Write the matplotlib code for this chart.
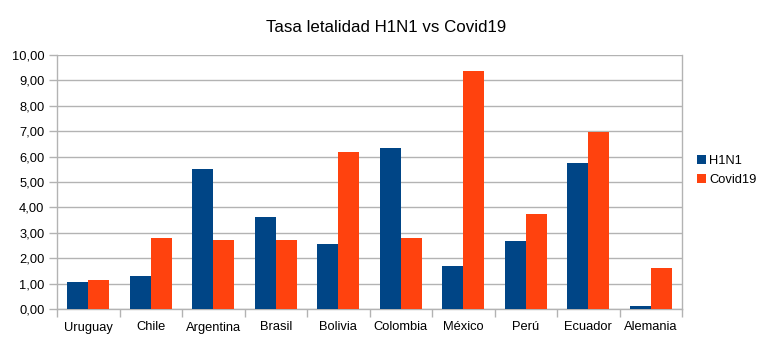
import numpy as np
import matplotlib.pyplot as plt
from matplotlib.ticker import FuncFormatter, MultipleLocator

plt.rcParams['font.family'] = ['Liberation Sans', 'DejaVu Sans']

paises = ['Uruguay', 'Chile', 'Argentina', 'Brasil', 'Bolivia',
          'Colombia', 'México', 'Perú', 'Ecuador', 'Alemania']
h1n1 = [1.07, 1.29, 5.51, 3.63, 2.57, 6.32, 1.68, 2.68, 5.75, 0.13]
covid19 = [1.14, 2.80, 2.72, 2.70, 6.20, 2.78, 9.38, 3.75, 6.97, 1.62]

azul = '#004586'
naranja = '#ff420e'
gris = '#b3b3b3'


def plot_letalidad():
    x = np.arange(len(paises))
    w = 0.336
    fig = plt.figure(figsize=(7.72, 3.40), dpi=100)
    ax = fig.add_axes([57 / 772, 31 / 340, 625 / 772, 254 / 340])
    ax.bar(x - w / 2, h1n1, width=w, color=azul, label='H1N1', zorder=3)
    ax.bar(x + w / 2, covid19, width=w, color=naranja, label='Covid19', zorder=3)

    ax.set_xlim(-0.5, len(paises) - 0.5)
    ax.set_ylim(0, 10)
    ax.yaxis.set_major_locator(MultipleLocator(1))
    ax.yaxis.set_major_formatter(FuncFormatter(lambda v, p: f'{v:.2f}'.replace('.', ',')))
    ax.grid(axis='y', color=gris, linewidth=1, zorder=0)

    # category labels centred, ticks on the boundaries between groups
    ax.set_xticks(np.arange(-0.5, len(paises)), minor=False)
    ax.set_xticklabels([])
    ax.set_xticks(x, minor=True)
    ax.set_xticklabels(paises, minor=True)
    ax.tick_params(axis='x', which='major', length=6, color=gris, width=1)
    ax.tick_params(axis='x', which='minor', length=0, pad=9, labelsize=9.3, labelcolor='black')
    ax.tick_params(axis='y', length=6, color=gris, width=1, pad=3, labelsize=9.3)

    for s in ax.spines.values():
        s.set_color(gris)
        s.set_linewidth(1)
    ax.spines['top'].set_visible(False)

    ax.legend(loc='center left', bbox_to_anchor=(1.015, 0.545), frameon=False,
              fontsize=9.3, handlelength=0.7, handleheight=0.7, handletextpad=0.3,
              labelspacing=0.5, borderaxespad=0)
    fig.text(0.5, 1 - 27 / 340, 'Tasa letalidad H1N1 vs Covid19', ha='center', va='center',
             fontsize=12.2)
    fig.savefig('out.png', dpi=100)


plot_letalidad()
